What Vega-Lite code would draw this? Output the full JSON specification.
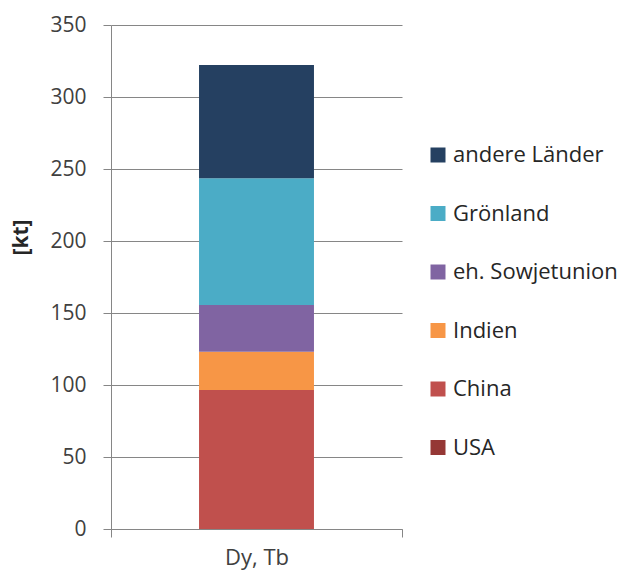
{
  "$schema": "https://vega.github.io/schema/vega-lite/v6.json",
  "autosize": "none",
  "width": 291,
  "height": 504,
  "padding": {"left": 111, "top": 25, "right": 221, "bottom": 48},
  "background": "white",
  "config": {
    "font": "Open Sans",
    "view": {"stroke": null}
  },
  "data": {
    "values": [
      {"material": "Dy, Tb", "land": "USA", "rank": 1, "kt": 0},
      {"material": "Dy, Tb", "land": "China", "rank": 2, "kt": 96.5},
      {"material": "Dy, Tb", "land": "Indien", "rank": 3, "kt": 26.6},
      {"material": "Dy, Tb", "land": "eh. Sowjetunion", "rank": 4, "kt": 32.5},
      {"material": "Dy, Tb", "land": "Grönland", "rank": 5, "kt": 88},
      {"material": "Dy, Tb", "land": "andere Länder", "rank": 6, "kt": 78.7}
    ]
  },
  "mark": {"type": "bar", "width": {"band": 0.395}},
  "encoding": {
    "x": {
      "field": "material",
      "type": "nominal",
      "scale": {"paddingInner": 0, "paddingOuter": 0},
      "axis": {
        "title": null,
        "labelAngle": 0,
        "labelFontSize": 22,
        "labelColor": "#404040",
        "labelPadding": 10,
        "tickBand": "extent",
        "tickSize": 8,
        "tickColor": "#868686",
        "domainColor": "#868686",
        "grid": false
      }
    },
    "y": {
      "field": "kt",
      "type": "quantitative",
      "stack": "zero",
      "scale": {"domain": [0, 350], "nice": false},
      "axis": {
        "title": "[kt]",
        "titleFontSize": 21,
        "titleFontWeight": "bold",
        "titleColor": "#262626",
        "titleX": -90,
        "titleY": 212,
        "titleBaseline": "middle",
        "values": [0, 50, 100, 150, 200, 250, 300, 350],
        "labelFontSize": 21,
        "labelColor": "#404040",
        "labelPadding": 17,
        "tickSize": 8,
        "tickColor": "#868686",
        "domainColor": "#868686",
        "gridColor": "#868686",
        "grid": true
      }
    },
    "color": {
      "field": "land",
      "type": "nominal",
      "scale": {
        "domain": ["andere Länder", "Grönland", "eh. Sowjetunion", "Indien", "China", "USA"],
        "range": ["#254061", "#4BACC6", "#8064A2", "#F79646", "#C0504D", "#953735"]
      },
      "legend": {
        "title": null,
        "orient": "none",
        "legendX": 316,
        "legendY": 119,
        "symbolType": "square",
        "symbolSize": 225,
        "symbolStrokeWidth": 0,
        "labelFontSize": 22,
        "labelLimit": 400,
        "labelColor": "#262626",
        "labelOffset": 4,
        "rowPadding": 36.5
      }
    },
    "order": {"field": "rank", "type": "quantitative"}
  }
}
